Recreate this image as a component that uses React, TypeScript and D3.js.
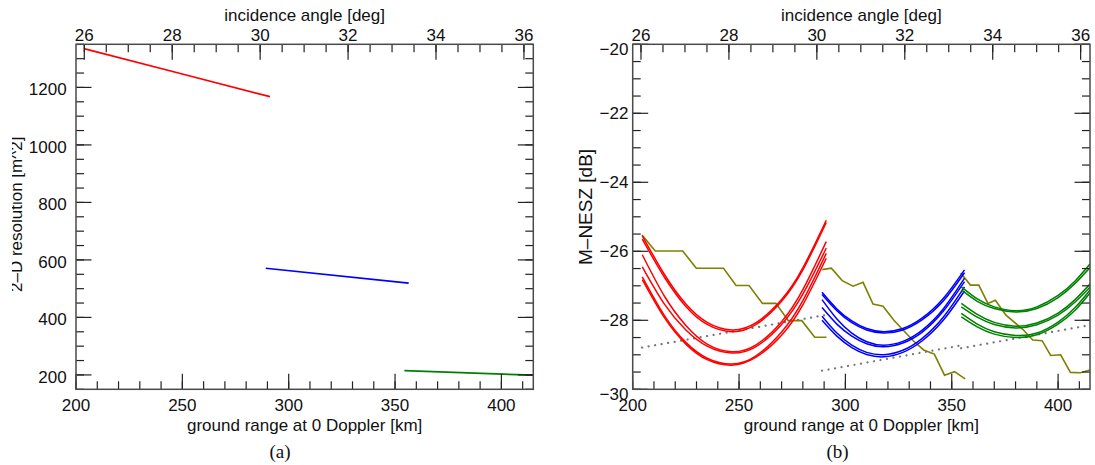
import React from 'react';
import * as d3 from 'd3';

// ---------- axes ----------
const groundDomain = [200, 415];
const groundTicks = [200, 250, 300, 350, 400];
const groundMinorStep = 10;
const angleTicks = [26, 28, 30, 32, 34, 36];
const angleMinorStep = 0.5;
const angleCalib = [26, 36];
const rangeAtAngle = [203.9, 410.6];
const resDomain = [150, 1350];
const resTicks = [200, 400, 600, 800, 1000, 1200];
const resMinorStep = 50;
const neszDomain = [-30, -20];
const neszTicks = [-30, -28, -26, -24, -22, -20];
const neszMinorStep = 0.5;

// ---------- (a) 2-D resolution ----------
const resRed: [number, number][] = [[204.2, 1334], [247.7, 1251], [291.2, 1168]];
const resBlue: [number, number][] = [[289.2, 571], [356.4, 519]];
const resGreen: [number, number][] = [[354.4, 215], [415, 199]];

// ---------- (b) M-NESZ ----------
const redRange = [204.5, 215, 225, 235, 246.5, 258, 270, 280, 291];
const redTop1 = [-25.55, -26.68, -27.53, -28.06, -28.28, -28.07, -27.40, -26.48, -25.10];
const redTop2 = [-25.65, -26.76, -27.60, -28.12, -28.33, -28.12, -27.45, -26.54, -25.16];
const redMid1 = [-26.10, -27.31, -28.15, -28.69, -28.91, -28.71, -28.04, -27.11, -25.72];
const redMid2 = [-26.45, -27.54, -28.28, -28.75, -28.95, -28.76, -28.12, -27.24, -25.91];
const redBot1 = [-26.74, -27.87, -28.64, -29.10, -29.27, -29.03, -28.34, -27.43, -26.06];
const redBot2 = [-26.82, -27.93, -28.69, -29.14, -29.30, -29.07, -28.43, -27.55, -26.20];

const blueRange = [289, 296, 303, 310, 318, 327, 336, 346, 356];
const blueTop1 = [-27.19, -27.67, -28.02, -28.24, -28.33, -28.24, -27.94, -27.37, -26.54];
const blueTop2 = [-27.25, -27.72, -28.07, -28.28, -28.37, -28.28, -27.99, -27.44, -26.62];
const blueMid1 = [-27.40, -27.96, -28.37, -28.62, -28.72, -28.61, -28.29, -27.67, -26.78];
const blueMid2 = [-27.63, -28.11, -28.46, -28.68, -28.77, -28.66, -28.35, -27.74, -26.88];
const blueBot1 = [-27.88, -28.37, -28.72, -28.93, -29.00, -28.87, -28.53, -27.91, -27.03];
const blueBot2 = [-28.00, -28.46, -28.79, -28.99, -29.06, -28.93, -28.60, -28.00, -27.15];

const greenRange = [354.5, 362, 370, 380, 390, 400, 408, 415];
const greenTop1 = [-27.03, -27.38, -27.61, -27.72, -27.61, -27.28, -26.86, -26.37];
const greenTop2 = [-27.12, -27.45, -27.66, -27.76, -27.66, -27.34, -26.93, -26.47];
const greenMid1 = [-27.51, -27.83, -28.06, -28.17, -28.08, -27.79, -27.40, -26.95];
const greenMid2 = [-27.61, -27.91, -28.12, -28.22, -28.13, -27.85, -27.47, -27.04];
const greenBot1 = [-27.80, -28.11, -28.33, -28.44, -28.37, -28.05, -27.63, -27.12];
const greenBot2 = [-27.90, -28.19, -28.40, -28.50, -28.42, -28.11, -27.71, -27.21];

const olive1: [number, number][] = [[204.4, -25.53], [210.6, -25.99], [223.5, -25.99], [229.9, -26.49], [242.7, -26.49], [248.6, -26.99], [254.7, -26.99], [261.0, -27.51], [267.3, -27.51], [273.2, -28.01], [279.5, -28.01], [285.6, -28.49], [291.1, -28.49]];
const olive2: [number, number][] = [[289.1, -26.53], [293.4, -26.49], [298.5, -26.85], [303.6, -27.01], [308.3, -26.90], [313.0, -27.53], [317.7, -27.59], [322.8, -28.0], [332.0, -28.6], [336.8, -28.86], [341.8, -28.98], [346.6, -29.59], [351.3, -29.49], [356.3, -29.70]];
const olive3: [number, number][] = [[354.2, -26.63], [358.8, -26.98], [362.7, -26.98], [367.0, -27.51], [370.5, -27.42], [375.5, -27.85], [383.7, -28.28], [388.1, -28.57], [392.5, -28.59], [396.5, -29.02], [401.2, -29.0], [405.8, -29.51], [410.5, -29.52], [415.0, -29.44]];

const dot1: [number, number][] = [[204.4, -28.79], [290.4, -27.85]];
const dot2: [number, number][] = [[289.0, -29.46], [356.0, -28.71]];
const dot3: [number, number][] = [[354.4, -28.81], [415.0, -28.14]];

// ---------- layout ----------
const W = 1095, H = 465;
const Y0 = 44.3, Y1 = 389.3;
const FONT = "'Liberation Sans', Arial, Helvetica, sans-serif";
const FS = 17;
const MAJ = 15.5, MIN = 8;
const AXIS = '#4a4a4a';

type Series = { pts: [number, number][]; color: string; width: number; dash?: string; smooth?: boolean };

const zipPts = (xs: number[], ys: number[]) => xs.map((x, i) => [x, ys[i]] as [number, number]);

function Panel(props: {
  id: string; x0: number; x1: number; yDomain: number[]; yTicks: number[]; yMinorStep: number;
  yFmt: (v: number) => string; yLabelGap: number; yLabelDy: (v: number) => number;
  yTitle: string; yTitleX: number; yTitleY: number; yTitleSize: number; yTitleClip?: number;
  series: Series[]; letter: string; letterX: number;
}) {
  const { id, x0, x1, yDomain, yTicks, yMinorStep, yFmt, yLabelGap, yLabelDy, yTitle, yTitleX, yTitleY, yTitleSize, yTitleClip, series, letter, letterX } = props;
  const xS = d3.scaleLinear().domain(groundDomain).range([x0, x1]);
  const yS = d3.scaleLinear().domain(yDomain).range([Y1, Y0]);
  const aS = d3.scaleLinear().domain(angleCalib).range(rangeAtAngle.map((r) => xS(r)));
  const xMinor = d3.range(groundDomain[0], groundDomain[1] + 1e-6, groundMinorStep);
  const aMinor = d3.range(angleTicks[0], angleTicks[angleTicks.length - 1] + 1e-6, angleMinorStep);
  const yMinor = d3.range(yDomain[0], yDomain[1] + 1e-6, yMinorStep);
  const cx = (x0 + x1) / 2;
  const lineLin = d3.line<[number, number]>().x((d) => xS(d[0])).y((d) => yS(d[1]));
  const lineSmooth = d3.line<[number, number]>().x((d) => xS(d[0])).y((d) => yS(d[1])).curve(d3.curveNatural);
  return (
    <g>
      <defs>
        <clipPath id={`clip-${id}`}>
          <rect x={x0} y={Y0} width={x1 - x0} height={Y1 - Y0} />
        </clipPath>
        {yTitleClip !== undefined && (
          <clipPath id={`tclip-${id}`}>
            <rect x={yTitleClip} y={0} width={60} height={H} />
          </clipPath>
        )}
      </defs>
      <g clipPath={`url(#clip-${id})`}>
        {series.map((s, i) => (
          <path key={i} d={(s.smooth ? lineSmooth : lineLin)(s.pts) || ''} fill="none" stroke={s.color}
            strokeWidth={s.width} strokeDasharray={s.dash} strokeLinecap={s.dash ? 'round' : 'butt'} />
        ))}
      </g>
      <g stroke="#222" strokeWidth={1.2}>
        {xMinor.map((v) => (
          <line key={`xm${v}`} x1={xS(v)} x2={xS(v)} y1={Y1} y2={Y1 - MIN} />
        ))}
        {aMinor.map((v) => (
          <line key={`am${v}`} x1={aS(v)} x2={aS(v)} y1={Y0} y2={Y0 + MIN} />
        ))}
        {yMinor.map((v) => (
          <g key={`ym${v}`}>
            <line x1={x0} x2={x0 + MIN} y1={yS(v)} y2={yS(v)} />
            <line x1={x1} x2={x1 - MIN} y1={yS(v)} y2={yS(v)} />
          </g>
        ))}
        {groundTicks.map((v) => (
          <line key={`xM${v}`} x1={xS(v)} x2={xS(v)} y1={Y1} y2={Y1 - MAJ} />
        ))}
        {angleTicks.map((v) => (
          <line key={`aM${v}`} x1={aS(v)} x2={aS(v)} y1={Y0} y2={Y0 + MAJ} />
        ))}
        {yTicks.map((v) => (
          <g key={`yM${v}`}>
            <line x1={x0} x2={x0 + MAJ} y1={yS(v)} y2={yS(v)} />
            <line x1={x1} x2={x1 - MAJ} y1={yS(v)} y2={yS(v)} />
          </g>
        ))}
      </g>
      <rect x={x0} y={Y0} width={x1 - x0} height={Y1 - Y0} fill="none" stroke={AXIS} strokeWidth={1.5} />
      <g fontFamily={FONT} fontSize={FS} fill="#111">
        {groundTicks.map((v) => (
          <text key={`xl${v}`} x={xS(v)} y={411} textAnchor="middle">{String(v)}</text>
        ))}
        {angleTicks.map((v) => (
          <text key={`al${v}`} x={aS(v)} y={40.7} textAnchor="middle">{String(v)}</text>
        ))}
        {yTicks.map((v) => (
          <text key={`yl${v}`} x={x0 - yLabelGap} y={yS(v) + yLabelDy(v)} textAnchor="end">{yFmt(v)}</text>
        ))}
        <text x={cx} y={20.5} textAnchor="middle">incidence angle [deg]</text>
        <text x={cx} y={430.5} textAnchor="middle">ground range at 0 Doppler [km]</text>
        <g clipPath={yTitleClip !== undefined ? `url(#tclip-${id})` : undefined}>
          <text transform={`translate(${yTitleX},${yTitleY}) rotate(-90)`} textAnchor="start" fontSize={yTitleSize}>{yTitle}</text>
        </g>
      </g>
      <text x={letterX} y={458} textAnchor="middle" fontFamily="'Liberation Serif', 'Times New Roman', serif" fontSize={19} fill="#111">{letter}</text>
    </g>
  );
}

export default function App() {
  const fmtNesz = d3.format('d');
  const aSeries: Series[] = [
    { pts: resRed, color: '#ff0000', width: 1.7 },
    { pts: resBlue, color: '#0000ff', width: 1.7 },
    { pts: resGreen, color: '#008000', width: 1.7 },
  ];
  const mk = (xs: number[], ys: number[], color: string): Series => ({ pts: zipPts(xs, ys), color, width: 1.5, smooth: true });
  const bSeries: Series[] = [
    { pts: dot1, color: '#777', width: 2.2, dash: '0.1 6.5' },
    { pts: dot2, color: '#777', width: 2.2, dash: '0.1 6.5' },
    { pts: dot3, color: '#777', width: 2.2, dash: '0.1 6.5' },
    { pts: olive1, color: '#808000', width: 1.6 },
    { pts: olive2, color: '#808000', width: 1.6 },
    { pts: olive3, color: '#808000', width: 1.6 },
    mk(redRange, redTop1, '#ff0000'), mk(redRange, redTop2, '#ff0000'),
    mk(redRange, redMid1, '#ff0000'), mk(redRange, redMid2, '#ff0000'),
    mk(redRange, redBot1, '#ff0000'), mk(redRange, redBot2, '#ff0000'),
    mk(blueRange, blueTop1, '#0000ff'), mk(blueRange, blueTop2, '#0000ff'),
    mk(blueRange, blueMid1, '#0000ff'), mk(blueRange, blueMid2, '#0000ff'),
    mk(blueRange, blueBot1, '#0000ff'), mk(blueRange, blueBot2, '#0000ff'),
    mk(greenRange, greenTop1, '#008000'), mk(greenRange, greenTop2, '#008000'),
    mk(greenRange, greenMid1, '#008000'), mk(greenRange, greenMid2, '#008000'),
    mk(greenRange, greenBot1, '#008000'), mk(greenRange, greenBot2, '#008000'),
  ];
  return (
    <svg width={W} height={H} style={{ position: 'absolute', left: 0, top: 0, display: 'block', background: '#fff' }}>
      <rect x={0} y={0} width={W} height={H} fill="#fff" />
      <Panel id="a" x0={76} x1={533.3} yDomain={resDomain} yTicks={resTicks} yMinorStep={resMinorStep}
        yFmt={(v) => String(v)} yLabelGap={9.3} yLabelDy={() => 8}
        yTitle="2–D resolution [m^2]" yTitleX={21.7} yTitleY={292} yTitleSize={17} yTitleClip={12}
        series={aSeries} letter="(a)" letterX={280} />
      <Panel id="b" x0={632.7} x1={1090} yDomain={neszDomain} yTicks={neszTicks} yMinorStep={neszMinorStep}
        yFmt={(v) => fmtNesz(v)} yLabelGap={4.3}
        yLabelDy={(v) => (v === neszDomain[0] || v === neszDomain[1] ? 10.7 : 6)}
        yTitle="M–NESZ [dB]" yTitleX={591.7} yTitleY={265} yTitleSize={19}
        series={bSeries} letter="(b)" letterX={837.5} />
    </svg>
  );
}
